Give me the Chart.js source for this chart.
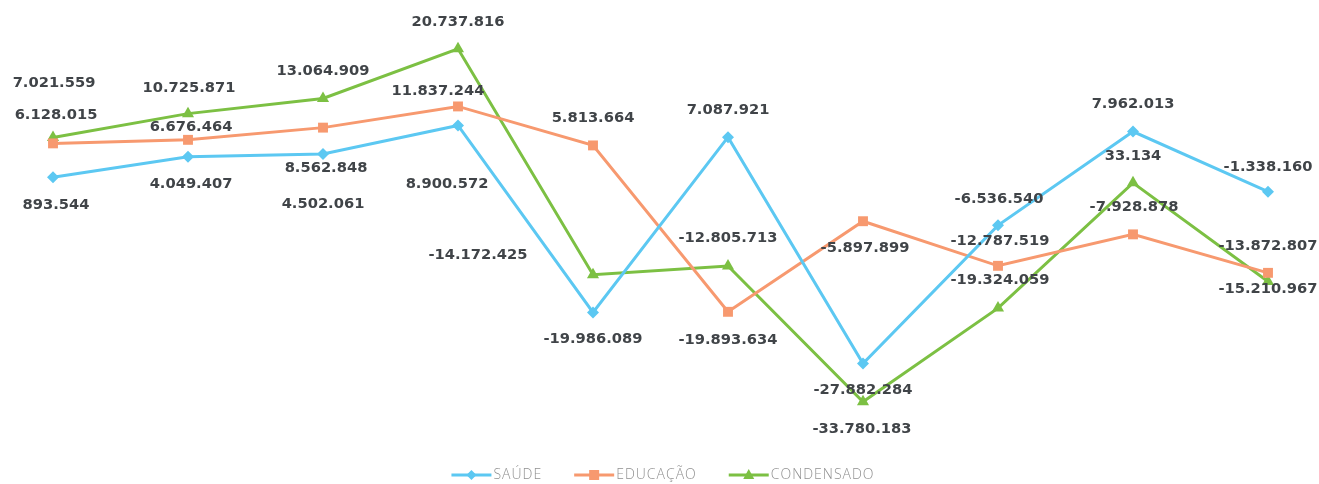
<!DOCTYPE html>
<html>
<head>
<meta charset="utf-8">
<script src="https://cdn.jsdelivr.net/npm/chart.js@4"></script>
<style>
  body { margin: 0; background: #fff; }
  #wrap { width: 1319px; height: 484px; }
</style>
</head>
<body>
<div id="wrap"><canvas id="mycanvas" width="1319" height="484"></canvas></div>
<script>
// valores
var categorias = ["1", "2", "3", "4", "5", "6", "7", "8", "9", "10"];
var saude = [893544, 4049407, 4502061, 8900572, -19986089, 7087921, -27882284, -6536540, 7962013, -1338160];
var educacao = [6128015, 6676464, 8562848, 11837244, 5813664, -19893634, -5897899, -12787519, -7928878, -13872807];
var condensado = [7021559, 10725871, 13064909, 20737816, -14172425, -12805713, -33780183, -19324059, 33134, -15210967];

// deslocamento dos rótulos em relação ao ponto [dx, dy]
var offSaude = [[3,28],[3,27],[0,50],[-11,59],[0,27],[0,-27],[0,27],[1,-26],[0,-27],[0,-25]];
var offEducacao = [[3,-28],[3,-13],[3,41],[-20,-15],[0,-27],[0,28],[2,27],[2,-25],[1,-27],[0,-27]];
var offCondensado = [[1,-54],[1,-25],[0,-27],[0,-27],[-115,-20],[0,-28],[-1,27],[2,-28],[0,-27],[0,8]];

var azul = "#5cc8f2";
var laranja = "#f7996f";
var verde = "#7cc043";

function fmt(v) {
    var s = Math.abs(v).toString().replace(/\B(?=(\d{3})+(?!\d))/g, ".");
    return (v < 0 ? "-" : "") + s;
}

var rotulos = {
    id: "rotulos",
    afterDatasetsDraw: function(chart) {
        var ctx = chart.ctx;
        var offs = [offSaude, offEducacao, offCondensado];
        ctx.save();
        ctx.font = "bold 14.7px 'DejaVu Sans'";
        ctx.fillStyle = "#404448";
        ctx.textAlign = "center";
        ctx.textBaseline = "middle";
        chart.data.datasets.forEach(function(ds, d) {
            var meta = chart.getDatasetMeta(d);
            meta.data.forEach(function(pt, i) {
                ctx.fillText(fmt(ds.data[i]), pt.x + offs[d][i][0], pt.y + offs[d][i][1]);
            });
        });
        ctx.restore();
    }
};

function marca(ctx, estilo, x, y, cor) {
    ctx.fillStyle = cor;
    ctx.beginPath();
    if (estilo == "rectRot") {
        ctx.moveTo(x, y - 5); ctx.lineTo(x + 5, y); ctx.lineTo(x, y + 5); ctx.lineTo(x - 5, y);
    } else if (estilo == "rect") {
        ctx.rect(x - 5, y - 5, 10, 10);
    } else {
        ctx.moveTo(x, y - 6); ctx.lineTo(x + 5.5, y + 4); ctx.lineTo(x - 5.5, y + 4);
    }
    ctx.closePath();
    ctx.fill();
}

var legenda = {
    id: "legenda",
    afterDraw: function(chart) {
        var ctx = chart.ctx;
        ctx.save();
        ctx.font = "300 14px 'Open Sans'";
        ctx.letterSpacing = "1px";
        ctx.textBaseline = "middle";
        var itens = chart.data.datasets;
        var larg = 0;
        itens.forEach(function(ds) { larg += 42 + ctx.measureText(ds.label).width; });
        larg += 32 * (itens.length - 1);
        var x = 663 - larg / 2;
        var y = 475;
        itens.forEach(function(ds) {
            ctx.strokeStyle = ds.borderColor;
            ctx.lineWidth = 3;
            ctx.beginPath();
            ctx.moveTo(x, y); ctx.lineTo(x + 40, y);
            ctx.stroke();
            marca(ctx, ds.pointStyle, x + 20, y, ds.borderColor);
            ctx.fillStyle = "#909090";
            ctx.fillText(ds.label, x + 42, y);
            x += 42 + ctx.measureText(ds.label).width + 32;
        });
        ctx.restore();
    }
};

var Data = {
    labels: categorias,
    datasets: [{
        label: "SAÚDE",
        data: saude,
        borderColor: azul,
        backgroundColor: azul,
        pointStyle: "rectRot",
        pointRadius: 6
    }, {
        label: "EDUCAÇÃO",
        data: educacao,
        borderColor: laranja,
        backgroundColor: laranja,
        pointStyle: "rect",
        pointRadius: 7
    }, {
        label: "CONDENSADO",
        data: condensado,
        borderColor: verde,
        backgroundColor: verde,
        pointStyle: "triangle",
        pointRadius: 7
    }]
};

var ctx = document.getElementById("mycanvas");
var myNewChart = new Chart(ctx, {
    type: "line",
    data: Data,
    options: {
        responsive: false,
        animation: false,
        elements: { line: { borderWidth: 3, tension: 0 }, point: { borderWidth: 0 } },
        layout: { padding: { left: 53, right: 51, top: 0, bottom: 44 } },
        plugins: { legend: { display: false }, tooltip: { enabled: false } },
        scales: {
            x: { display: false, offset: false },
            y: { display: false, min: -39700000, max: 27200000 }
        }
    },
    plugins: [rotulos, legenda]
});
</script>
</body>
</html>
